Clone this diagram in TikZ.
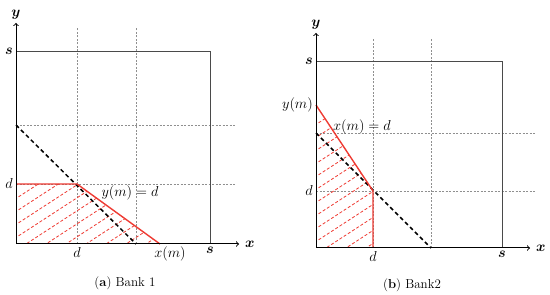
\documentclass[tikz,border=0pt]{standalone}
\usepackage{amsmath}
\usepackage{bm}
\usepackage{xcolor}
\usepackage{tikz}
\usetikzlibrary{positioning}
\definecolor{hatchred}{HTML}{EE3B33}
\definecolor{gridgray}{HTML}{8F8F8F}
\definecolor{boxgray}{HTML}{4A4A4A}

\begin{document}
\begin{tikzpicture}[x=1pt, y=1pt, >=to,
    axisline/.style={->, black, line width=1pt},
    boxline/.style={boxgray, line width=0.9pt},
    gridline/.style={gridgray, line width=0.7pt, dash pattern=on 2pt off 1.5pt},
    sumline/.style={black, line width=1.5pt, dash pattern=on 4pt off 3pt},
    bound/.style={hatchred, line width=1.4pt},
    hatch/.style={hatchred, line width=0.8pt, dash pattern=on 3pt off 2pt},
    lbl/.style={font=\fontsize{15.5}{18}\selectfont, inner sep=1pt},
    captext/.style={font=\fontsize{13}{15}\selectfont}]
\useasboundingbox (0,0) rectangle (550,295);

% Panel (a)
\begin{scope}[shift={(16,51)}]
\coordinate (oa) at (0,0);
\coordinate (xa) at (223,0);
\coordinate (ya) at (0,221);
\coordinate (sxa) at (194,0);
\coordinate (sya) at (0,193);
\coordinate (sa) at (194,193);
\coordinate (dxa) at (61,0);
\coordinate (dya) at (0,60);
\coordinate (da) at (61,60);
\coordinate (txa) at (120,0);
\coordinate (tya) at (0,119);
\coordinate (xma) at (144,0);

\draw[gridline] (dxa) -- (61,217);
\draw[gridline] (txa) -- (120,217);
\draw[gridline] (dya) -- (220,60);
\draw[gridline] (tya) -- (220,119);

\begin{scope}
\clip (oa) -- (dya) -- (da) -- (xma) -- cycle;
\foreach \k in {-12,...,8}
    \draw[hatch] (-10,13*\k) -- (250,13*\k+169);
\end{scope}

\draw[boxline] (sya) -- (sa) -- (sxa);
\draw[sumline] (tya) -- (txa);
\draw[bound] (dya) -- (da) -- (xma);
\draw[axisline] (oa) -- (xa);
\draw[axisline] (oa) -- (ya);

\node[lbl, left=2pt of sya] (sla) {$\bm{s}$};
\node[lbl, left=2pt of dya] (dla) {$d$};
\node[lbl, below=2pt of dxa] (dba) {$d$};
\node[lbl, below=2pt of sxa] (sba) {$\bm{s}$};
\node[lbl, below=2pt of xma, xshift=10pt] (xmla) {$x(m)$};
\node[lbl, right=5pt of xa] (xla) {$\bm{x}$};
\node[lbl, above=2pt of ya] (yla) {$\bm{y}$};
\node[lbl] (eqa) at (114,51) {$y(m)=d$};
\node[captext] (capa) at (109,-39) {(\textbf{a}) Bank 1};
\end{scope}

% Panel (b)
\begin{scope}[shift={(316,47)}]
\coordinate (ob) at (0,0);
\coordinate (xb) at (214,0);
\coordinate (yb) at (0,215);
\coordinate (sxb) at (186,0);
\coordinate (syb) at (0,187);
\coordinate (sb) at (186,187);
\coordinate (dxb) at (57,0);
\coordinate (dyb) at (0,57);
\coordinate (db) at (57,57);
\coordinate (txb) at (115,0);
\coordinate (tyb) at (0,115);
\coordinate (ymb) at (0,143);

\draw[gridline] (dxb) -- (57,209);
\draw[gridline] (txb) -- (115,209);
\draw[gridline] (dyb) -- (219,57);
\draw[gridline] (tyb) -- (219,115);

\begin{scope}
\clip (ob) -- (ymb) -- (db) -- (dxb) -- cycle;
\foreach \k in {-12,...,12}
    \draw[hatch] (-10,13*\k) -- (250,13*\k+169);
\end{scope}

\draw[boxline] (syb) -- (sb) -- (sxb);
\draw[sumline] (tyb) -- (txb);
\draw[bound] (ymb) -- (db) -- (dxb);
\draw[axisline] (ob) -- (xb);
\draw[axisline] (ob) -- (yb);

\node[lbl, left=2pt of syb] (slb) {$\bm{s}$};
\node[lbl, left=2pt of dyb] (dlb) {$d$};
\node[lbl, left=2pt of ymb] (ymlb) {$y(m)$};
\node[lbl, below=2pt of dxb] (dbb) {$d$};
\node[lbl, below=2pt of sxb] (sbb) {$\bm{s}$};
\node[lbl, right=5pt of xb] (xlb) {$\bm{x}$};
\node[lbl, above=2pt of yb] (ylb) {$\bm{y}$};
\node[lbl] (eqb) at (46,121) {$x(m)=d$};
\node[captext] (capb) at (96,-37) {(\textbf{b}) Bank2};
\end{scope}
\end{tikzpicture}
\end{document}
